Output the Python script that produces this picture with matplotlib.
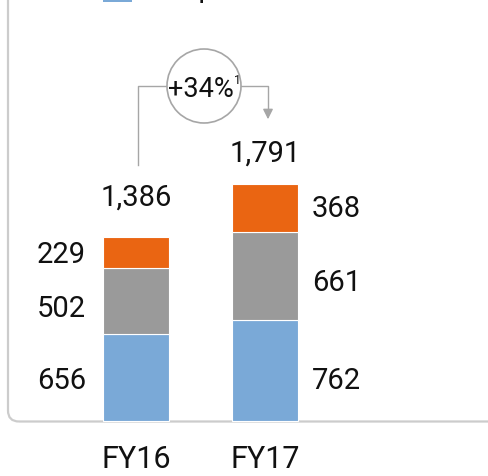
import matplotlib
matplotlib.use("Agg")
import matplotlib.pyplot as plt
from matplotlib.patches import FancyBboxPatch, Rectangle, Ellipse
from matplotlib.transforms import IdentityTransform

plt.rcParams['font.family'] = ['Roboto', 'DejaVu Sans']

categories = ["FY16", "FY17"]
series_names = ["Group", "Segment B", "Segment C"]
blue_vals = [656, 762]
gray_vals = [502, 661]
orange_vals = [229, 368]
totals = [1386, 1791]
growth_label = "+34%"
growth_note = "1"

colors = ["#7aa9d7", "#9a9a9a", "#ea6512"]

W, H = 488, 476
fig = plt.figure(figsize=(W / 100, H / 100), dpi=100)
ax = fig.add_axes([0, 0, 1, 1])
ax.axis("off")

px_per_unit_y = 0.1325
bottom_px = 55
ax.set_ylim(-bottom_px / px_per_unit_y, (H - bottom_px) / px_per_unit_y)
cx0, spacing = 136, 129
ax.set_xlim(-cx0 / spacing, (W - cx0) / spacing)
upx = 1 / px_per_unit_y
xpx = 1 / spacing

frame = FancyBboxPatch((8, bottom_px - 0.5), 800, 600,
                       boxstyle="round,pad=0,rounding_size=11",
                       transform=IdentityTransform(), facecolor="none",
                       edgecolor="#cccccc", linewidth=1.6, zorder=0)
fig.add_artist(frame)

x = list(range(len(categories)))
bw = 66 / spacing
bottoms = [0] * len(x)
for vals, c in zip([blue_vals, gray_vals, orange_vals], colors):
    ax.bar(x, vals, bw, bottom=bottoms, color=c, edgecolor="white",
           linewidth=0.8, zorder=2)
    bottoms = [b + v for b, v in zip(bottoms, vals)]

fs = 21
fw = "normal"
tc = "#111111"
label_shift_px = [[0, -5, 0], [-7, -4, 2]]
for i in x:
    b = 0
    for k, vals in enumerate([blue_vals, gray_vals, orange_vals]):
        v = vals[i]
        ymid = b + v / 2 + label_shift_px[i][k] * upx
        if i == 0:
            ax.text(i - bw / 2 - 17 * xpx, ymid, f"{v:,}", ha="right",
                    va="center_baseline", fontsize=fs, color=tc, fontweight=fw)
        else:
            ax.text(i + bw / 2 + 14 * xpx, ymid, f"{v:,}", ha="left",
                    va="center_baseline", fontsize=fs, color=tc, fontweight=fw)
        b += v

total_gap_px = [26, 16]
for i in x:
    ax.text(i, totals[i] + total_gap_px[i] * upx, f"{totals[i]:,}",
            ha="center", va="bottom", fontsize=fs, color=tc, fontweight=fw)

y_line = (476 - 86 - bottom_px) * upx
y_left_bot = (476 - 165 - bottom_px) * upx
y_arrow = (476 - 122 - bottom_px) * upx
xl = 0 + 2 * xpx
xr = 1 + 3 * xpx
xc = (204 - cx0) * xpx
r = 37
lc = "#a6a6a6"
ax.plot([xl, xl, xc - r * xpx], [y_left_bot, y_line, y_line], color=lc, lw=1.0, zorder=1)
ax.plot([xc + r * xpx, xr, xr], [y_line, y_line, y_arrow + 8 * upx], color=lc, lw=1.0, zorder=1)
ax.annotate("", xy=(xr, y_arrow), xytext=(xr, y_arrow + 10 * upx),
            arrowprops=dict(arrowstyle="-|>,head_length=0.6,head_width=0.3",
                            color=lc, lw=1.0))
ax.add_patch(Ellipse((xc, y_line), 2 * r * xpx, 2 * r * upx, facecolor="white",
                     edgecolor=lc, linewidth=1.2, zorder=3))
ax.text(xc - 3 * xpx, y_line, growth_label, ha="center", va="center_baseline",
        fontsize=19.5, color=tc, fontweight=fw, zorder=4)
ax.text(xc + 30 * xpx, y_line + 6 * upx, growth_note, ha="left", va="center",
        fontsize=9, color=tc, fontweight=fw, zorder=4)

for i, c in enumerate(categories):
    ax.text(i, -35 * upx, c, ha="center", va="center_baseline", fontsize=22,
            color=tc, fontweight=fw)

fig.add_artist(Rectangle((103 / W, 1 - 2 / H), 29 / W, 30 / H,
                         transform=fig.transFigure, facecolor=colors[0],
                         edgecolor="none"))
fig.text(136 / W, 1 + 3 / H, series_names[0], ha="left", va="baseline",
         fontsize=fs, color=tc, fontweight=fw)

fig.savefig("out.png", dpi=100)
